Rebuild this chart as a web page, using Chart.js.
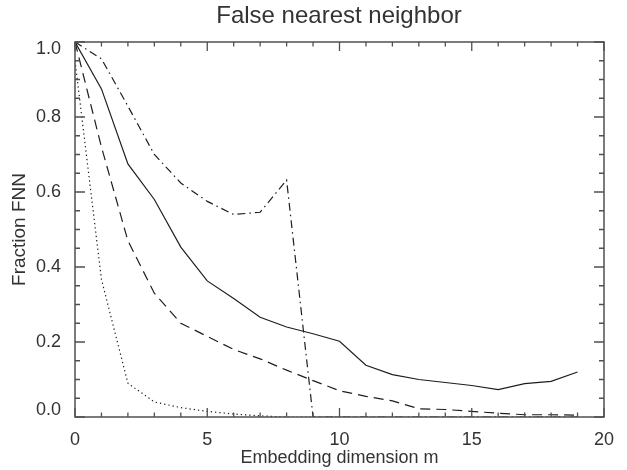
<!DOCTYPE html>
<html>
<head>
<meta charset="utf-8">
<script src="https://cdn.jsdelivr.net/npm/chart.js@4.4.1/dist/chart.umd.min.js"></script>
<style>
  html, body { margin: 0; padding: 0; background: #ffffff; }
  #wrap { width: 627px; height: 470px; }
</style>
</head>
<body>
<div id="wrap"><canvas id="fnn" width="627" height="470"></canvas></div>
<script>
// Embedding dimension m
const dims = [0, 1, 2, 3, 4, 5, 6, 7, 8, 9, 10, 11, 12, 13, 14, 15, 16, 17, 18, 19];

// Fraction of false nearest neighbours for four series
const fnnSolid   = [1.00, 0.875, 0.675, 0.580, 0.453, 0.363, 0.316, 0.266, 0.240, 0.222,
                    0.202, 0.138, 0.113, 0.100, 0.092, 0.084, 0.073, 0.089, 0.095, 0.120];
const fnnDashed  = [1.00, 0.720, 0.470, 0.330, 0.250, 0.215, 0.180, 0.155, 0.125, 0.097,
                    0.070, 0.055, 0.043, 0.022, 0.020, 0.015, 0.010, 0.006, 0.006, 0.005];
const fnnDotted  = [0.950, 0.367, 0.090, 0.040, 0.025, 0.015, 0.008, 0.003, 0.000, 0.000,
                    0.000, 0.000, 0.000, 0.000, 0.000, 0.000, 0.000, 0.000, 0.000, 0.000];
const fnnDashDot = [1.00, 0.955, 0.829, 0.700, 0.624, 0.575, 0.540, 0.546, 0.632, 0.000,
                    0.000, 0.000, 0.000, 0.000, 0.000, 0.000, 0.000, 0.000, 0.000, 0.000];

// Axis ticks
const xTickValues = [0, 5, 10, 15, 20];
const yTickValues = [0.0, 0.2, 0.4, 0.6, 0.8, 1.0];
const yTickLabels = ['0.0', '0.2', '0.4', '0.6', '0.8', '1.0'];

const INK = '#1e1e1e';
const AXIS = '#505050';
const TEXT = '#333333';
const FONT = 'Liberation Sans, Arial, sans-serif';

// Left strip reserved for the y labels; the title box starts at the frame
const LEFT_STRIP = 74;

const toPoints = ys => dims.map((m, i) => ({ x: m, y: ys[i] }));

const lineSet = (ys, dash) => ({
  data: toPoints(ys),
  borderColor: INK,
  borderWidth: 1.2,
  borderDash: dash,
  borderCapStyle: 'butt',
  pointRadius: 0,
  tension: 0,
  fill: false
});

// Box frame with inward major/minor ticks on all four sides, plus y labels
const framePlugin = {
  id: 'frame',
  afterDraw(chart) {
    const { ctx, chartArea: a, scales } = chart;
    const xs = scales.x, ys = scales.y;
    ctx.save();
    ctx.strokeStyle = AXIS;
    ctx.lineWidth = 1.5;
    ctx.strokeRect(a.left, a.top, a.right - a.left, a.bottom - a.top);

    ctx.lineWidth = 1.3;
    ctx.beginPath();
    for (let m = 0; m <= 20; m++) {
      const px = xs.getPixelForValue(m);
      const len = (m % 5 === 0) ? 9 : 4.5;
      ctx.moveTo(px, a.bottom); ctx.lineTo(px, a.bottom - len);
      ctx.moveTo(px, a.top);    ctx.lineTo(px, a.top + len);
    }
    for (let k = 0; k <= 20; k++) {
      const v = k * 0.05;
      const py = ys.getPixelForValue(v);
      const len = (k % 4 === 0) ? 10 : 5;
      ctx.moveTo(a.left, py);  ctx.lineTo(a.left + len, py);
      ctx.moveTo(a.right, py); ctx.lineTo(a.right - len, py);
    }
    ctx.stroke();

    // y tick labels: end labels are kept inside the frame height
    ctx.fillStyle = TEXT;
    ctx.font = '18px ' + FONT;
    ctx.textAlign = 'right';
    ctx.textBaseline = 'middle';
    yTickValues.forEach((v, i) => {
      let py = ys.getPixelForValue(v);
      if (i === yTickValues.length - 1) py += 7;
      if (i === 0) py -= 7;
      ctx.fillText(yTickLabels[i], a.left - 14, py);
    });
    ctx.restore();
  }
};

new Chart(document.getElementById('fnn'), {
  type: 'line',
  data: {
    datasets: [
      lineSet(fnnSolid, []),
      lineSet(fnnDashed, [10, 6]),
      lineSet(fnnDotted, [1.3, 3]),
      lineSet(fnnDashDot, [8, 4, 1.5, 4])
    ]
  },
  options: {
    responsive: false,
    animation: false,
    devicePixelRatio: 1,
    layout: { padding: { left: LEFT_STRIP, right: 23, top: 0, bottom: 0 } },
    plugins: {
      legend: { display: false },
      tooltip: { enabled: false },
      title: {
        display: true,
        text: 'False nearest neighbor',
        color: TEXT,
        font: { family: FONT, size: 24, weight: 'normal' },
        padding: { top: 1.6, bottom: 11.6 }
      }
    },
    scales: {
      x: {
        type: 'linear',
        min: 0, max: 20,
        grid: { display: false, drawTicks: false, tickLength: 0 },
        border: { display: false },
        afterBuildTicks: s => { s.ticks = xTickValues.map(v => ({ value: v })); },
        afterFit: s => { s.height = 53; },
        ticks: {
          color: TEXT,
          font: { family: FONT, size: 18 },
          padding: 12,
          maxRotation: 0,
          autoSkip: false,
          callback: v => String(v)
        },
        title: {
          display: true,
          text: 'Embedding dimension m',
          color: TEXT,
          font: { family: FONT, size: 18 },
          padding: { top: 0, bottom: 1 }
        }
      },
      y: {
        type: 'linear',
        min: 0, max: 1,
        grid: { display: false, drawTicks: false, tickLength: 0 },
        border: { display: false },
        afterBuildTicks: s => { s.ticks = yTickValues.map(v => ({ value: v })); },
        afterFit: s => { s.width = 1; },
        ticks: { display: false },
        title: {
          display: true,
          text: 'Fraction FNN',
          color: TEXT,
          font: { family: FONT, size: 19 },
          padding: { top: 19.5 - LEFT_STRIP - 11.4, bottom: 0 }
        }
      }
    }
  },
  plugins: [framePlugin]
});
</script>
</body>
</html>
